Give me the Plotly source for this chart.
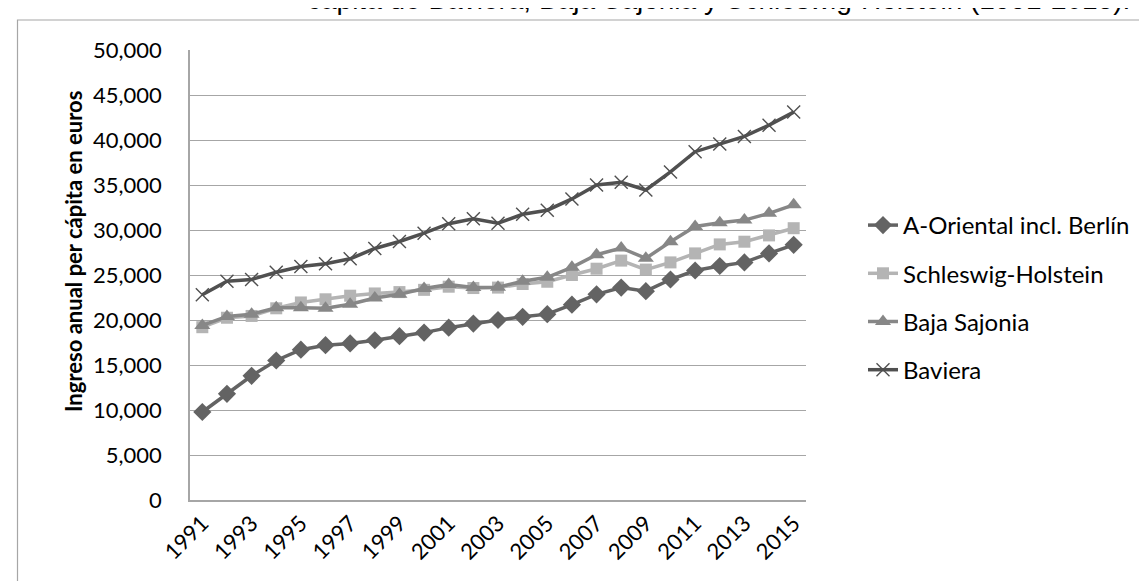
import plotly.graph_objects as go

years = list(range(1991, 2016))

oriental = [9780, 11800, 13800, 15500, 16700, 17200, 17400, 17750, 18200, 18600,
            19150, 19600, 20000, 20350, 20650, 21700, 22850, 23600, 23200, 24500,
            25500, 26000, 26400, 27400, 28350]
schleswig = [19200, 20250, 20450, 21300, 21950, 22300, 22700, 22950, 23100, 23350,
             23700, 23550, 23600, 24000, 24250, 25000, 25700, 26600, 25600, 26400,
             27400, 28400, 28700, 29400, 30200]
baja = [19400, 20400, 20650, 21350, 21350, 21300, 21750, 22450, 22850, 23500,
        23950, 23600, 23650, 24300, 24750, 25850, 27250, 28000, 26850, 28700,
        30400, 30800, 31100, 31850, 32800]
baviera = [22800, 24300, 24500, 25300, 25950, 26250, 26800, 27950, 28720, 29650,
           30700, 31250, 30750, 31750, 32200, 33450, 35000, 35300, 34450, 36450,
           38700, 39550, 40400, 41650, 43100]

tick_years = list(range(1991, 2016, 2))

W, H = 1147, 581
L, R, T, B = 182, 798, 42, 492


def px_x(p):
    return (p - L) / (R - L)


def px_y(p):
    return (B - p) / (B - T)


series = [
    ("A-Oriental incl. Berlín", oriental, "#636363", "diamond", 14, None),
    ("Schleswig-Holstein", schleswig, "#b4b4b4", "square", 12, None),
    ("Baja Sajonia", baja, "#878787", "triangle-up", 14, None),
    ("Baviera", baviera, "#505050", "x-thin", 13, "#505050"),
]

fig = go.Figure()
for i, (name, vals, color, symbol, size, mline) in enumerate(series):
    marker = dict(symbol=symbol, size=size, color=color)
    if mline:
        marker["line"] = dict(color=mline, width=1.4)
    fig.add_trace(go.Scatter(
        x=years, y=vals, name=name, mode="lines+markers",
        line=dict(color=color, width=3.5),
        marker=marker, legendgroup=f"g{i}",
    ))

# outer chart frame (right and bottom edges fall outside the image)
fig.add_shape(type="rect", xref="paper", yref="paper",
              x0=px_x(9.5), x1=px_x(W + 20), y0=px_y(H + 20), y1=px_y(12),
              line=dict(color="#a6a6a6", width=1.2), layer="below")

# title: only its last line shows, cut at the top edge
fig.add_annotation(
    text="cápita de Baviera, Baja Sajonia y Schleswig-Holstein (1991-2015).",
    xref="paper", yref="paper", x=px_x(710), y=px_y(-8),
    xanchor="center", yanchor="middle", showarrow=False,
    font=dict(family="Liberation Sans, Arial", size=28, color="#000000"),
)

fig.add_annotation(
    text="<b>Ingreso anual per cápita en euros</b>",
    xref="paper", yref="paper", x=px_x(65), y=px_y(244),
    xanchor="center", yanchor="middle", textangle=-90, showarrow=False,
    font=dict(family="Lato, sans-serif", size=22, color="#000000"),
)

fig.update_layout(
    width=W, height=H,
    margin=dict(l=L, r=W - R, t=T, b=H - B, autoexpand=False),
    paper_bgcolor="white", plot_bgcolor="white",
    font=dict(family="Lato, Carlito, Calibri, sans-serif", color="#000000"),
    xaxis=dict(
        range=[1990.5, 2015.5], tickvals=tick_years, tickangle=-45,
        tickfont=dict(size=22), showgrid=False, zeroline=False,
        showline=True, linecolor="#a6a6a6", linewidth=1.5, ticks="",
    ),
    yaxis=dict(
        range=[0, 50000], dtick=5000, tickformat=",d",
        tickfont=dict(size=22), gridcolor="#a6a6a6", gridwidth=1.2,
        zeroline=False, showline=True, linecolor="#a6a6a6", linewidth=1.5,
        ticks="", ticklabelstandoff=22,
    ),
    legend=dict(
        x=px_x(855), y=px_y(195), xanchor="left", yanchor="top",
        font=dict(size=24), tracegroupgap=14, bgcolor="rgba(0,0,0,0)",
    ),
    showlegend=True,
)

fig.write_html("out.html")
